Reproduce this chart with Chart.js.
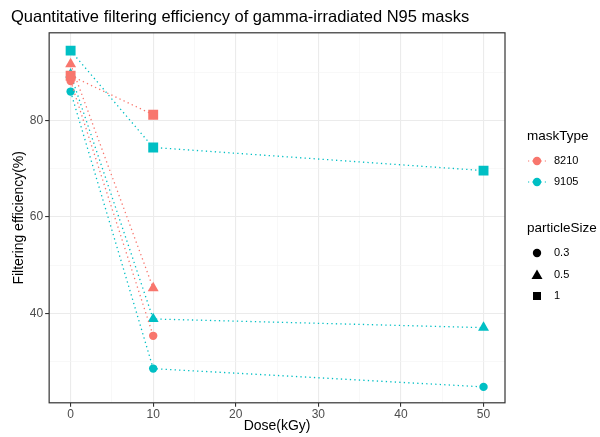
<!DOCTYPE html>
<html>
<head>
<meta charset="utf-8">
<script src="https://cdn.jsdelivr.net/npm/chart.js@4/dist/chart.umd.min.js"></script>
<style>
  body { margin: 0; background: #fff; font-family: "Liberation Sans", Arial, sans-serif; }
  #wrap { position: relative; width: 600px; height: 437px; }
  #legend { position: absolute; left: 519px; top: 0; font-size: 13px; color: #000; }
  .lt { position: absolute; white-space: nowrap; font-size: 13.5px; }
  .li { position: absolute; white-space: nowrap; font-size: 11px; color: #000; }
  .sym { position: absolute; }
</style>
</head>
<body>
<div id="wrap">
  <canvas id="chart" width="600" height="437"></canvas>
  <div id="legend"></div>
</div>
<script>
// valeurs
const maskTypes = ["8210", "9105"];
const particleSizes = ["0.3", "0.5", "1"];
const dose8210 = [0, 10];
const dose9105 = [0, 10, 50];
const eff8210_03 = [88.2, 35.3];
const eff8210_05 = [91.7, 45.2];
const eff8210_1 = [89.3, 81.2];
const eff9105_03 = [86.0, 28.5, 24.7];
const eff9105_05 = [89.6, 38.8, 37.0];
const eff9105_1 = [94.5, 74.4, 69.6];
const xTicks = [0, 10, 20, 30, 40, 50];
const yTicks = [40, 60, 80];

const couleurs = { "8210": "#F8766D", "9105": "#00BFC4" };
const formes = { "0.3": "circle", "0.5": "triangle", "1": "rect" };
const rayons = { "0.3": 4.2, "0.5": 6.3, "1": 7 };

function serie(mask, size, doses, vals) {
    return {
        label: mask + " / " + size,
        data: doses.map((d, i) => ({ x: d, y: vals[i] })),
        showLine: true,
        borderColor: couleurs[mask],
        backgroundColor: couleurs[mask],
        borderWidth: 1.3,
        borderDash: [1.3, 3.2],
        pointStyle: formes[size],
        pointRadius: rayons[size],
        pointHoverRadius: rayons[size],
        pointBorderWidth: 0
    };
}

const datasets = [
    serie("8210", "0.5", dose8210, eff8210_05),
    serie("8210", "1", dose8210, eff8210_1),
    serie("8210", "0.3", dose8210, eff8210_03),
    serie("9105", "0.3", dose9105, eff9105_03),
    serie("9105", "0.5", dose9105, eff9105_05),
    serie("9105", "1", dose9105, eff9105_1)
];

// cadre du panneau (theme_bw)
const cadre = {
    id: "cadre",
    afterDraw(chart) {
        const a = chart.chartArea, ctx = chart.ctx;
        ctx.save();
        ctx.strokeStyle = "#333333";
        ctx.lineWidth = 1.2;
        ctx.strokeRect(a.left, a.top, a.right - a.left, a.bottom - a.top);
        ctx.restore();
    }
};

const grille = (majeurs) => ({
    color: ctx => majeurs.includes(ctx.tick && ctx.tick.value) ? "#EBEBEB" : "#F3F3F3",
    lineWidth: ctx => majeurs.includes(ctx.tick && ctx.tick.value) ? 1.1 : 0.6,
    tickColor: ctx => majeurs.includes(ctx.tick && ctx.tick.value) ? "#333333" : "rgba(0,0,0,0)",
    tickLength: 4,
    drawOnChartArea: true
});

new Chart(document.getElementById("chart"), {
    type: "scatter",
    data: { datasets: datasets },
    options: {
        responsive: false,
        animation: false,
        layout: { padding: { left: 11, right: 95, top: 0, bottom: 2 } },
        plugins: {
            legend: { display: false },
            tooltip: { enabled: false },
            title: {
                display: true,
                text: "Quantitative filtering efficiency of gamma-irradiated N95 masks",
                align: "start",
                color: "#000",
                font: { family: "Liberation Sans", size: 16.5, weight: "normal" },
                padding: { top: 8, bottom: 5 }
            }
        },
        scales: {
            x: {
                type: "linear",
                min: -2.6,
                max: 52.6,
                afterBuildTicks: s => { s.ticks = [0, 5, 10, 15, 20, 25, 30, 35, 40, 45, 50].map(v => ({ value: v })); },
                ticks: {
                    color: "#4D4D4D",
                    font: { family: "Liberation Sans", size: 12 },
                    padding: 1,
                    autoSkip: false,
                    maxRotation: 0,
                    callback: v => xTicks.includes(v) ? String(v) : ""
                },
                grid: grille(xTicks),
                border: { display: false },
                title: {
                    display: true,
                    text: "Dose(kGy)",
                    color: "#000",
                    font: { family: "Liberation Sans", size: 14 },
                    padding: { top: -5, bottom: 0 }
                }
            },
            y: {
                type: "linear",
                min: 21.4,
                max: 98.2,
                afterBuildTicks: s => { s.ticks = [30, 40, 50, 60, 70, 80, 90].map(v => ({ value: v })); },
                ticks: {
                    color: "#4D4D4D",
                    font: { family: "Liberation Sans", size: 12 },
                    padding: 2,
                    autoSkip: false,
                    callback: v => yTicks.includes(v) ? String(v) : ""
                },
                grid: grille(yTicks),
                border: { display: false },
                title: {
                    display: true,
                    text: "Filtering efficiency(%)",
                    color: "#000",
                    font: { family: "Liberation Sans", size: 14 },
                    padding: { top: 0, bottom: 0 }
                }
            }
        }
    },
    plugins: [cadre]
});

// légende à droite (deux groupes, comme ggplot)
function symbole(forme, couleur, ligne) {
    let s = '<svg width="24" height="16" viewBox="0 0 24 16">';
    if (ligne) s += '<line x1="3" y1="8" x2="21" y2="8" stroke="' + couleur + '" stroke-width="1.2" stroke-dasharray="1.2,3"/>';
    if (forme === "circle") s += '<circle cx="12" cy="8" r="4.2" fill="' + couleur + '"/>';
    if (forme === "triangle") s += '<polygon points="12,2.5 17.5,12 6.5,12" fill="' + couleur + '"/>';
    if (forme === "rect") s += '<rect x="8" y="4" width="8" height="8" fill="' + couleur + '"/>';
    return s + "</svg>";
}

const leg = document.getElementById("legend");
let html = '<div class="lt" style="left:8px;top:128px">maskType</div>';
maskTypes.forEach((m, i) => {
    const y = 153 + i * 21;
    html += '<div class="sym" style="left:6px;top:' + y + 'px">' + symbole("circle", couleurs[m], true) + "</div>";
    html += '<div class="li" style="left:35px;top:' + (y + 1) + 'px">' + m + "</div>";
});
html += '<div class="lt" style="left:8px;top:220px">particleSize</div>';
particleSizes.forEach((p, i) => {
    const y = 245 + i * 21.5;
    html += '<div class="sym" style="left:6px;top:' + y + 'px">' + symbole(formes[p], "#000", false) + "</div>";
    html += '<div class="li" style="left:35px;top:' + (y + 1) + 'px">' + p + "</div>";
});
leg.innerHTML = html;
</script>
</body>
</html>
